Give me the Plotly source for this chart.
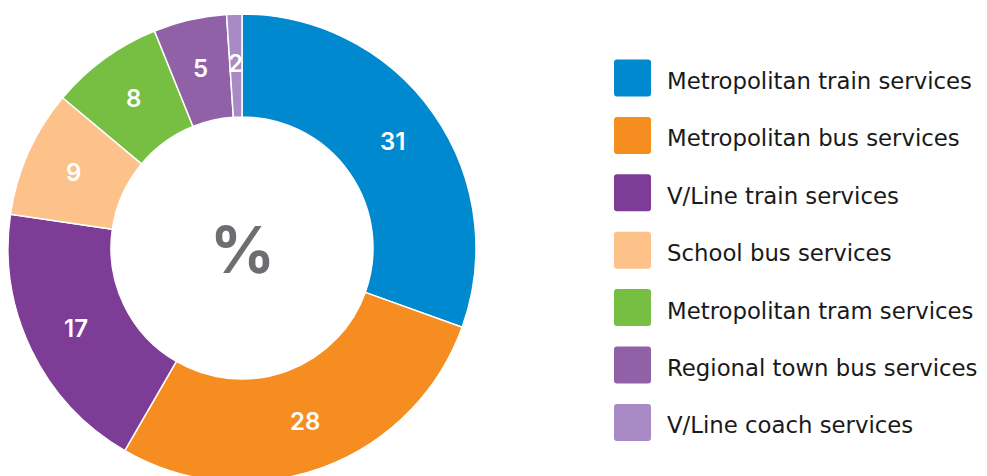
import math
import plotly.graph_objects as go

# ---- data ----
categories = [
    "Metropolitan train services",
    "Metropolitan bus services",
    "V/Line train services",
    "School bus services",
    "Metropolitan tram services",
    "Regional town bus services",
    "V/Line coach services",
]
# slice shares as drawn in the picture
shares = [30.5, 27.85, 18.95, 8.8, 7.8, 5.05, 1.05]
# printed labels
printed = ["31", "28", "17", "9", "8", "5", "2"]
colors = ["#0089CF", "#F68D20", "#7D3C96", "#FDC18A", "#76BF43", "#9161A8", "#A88AC4"]

W, H = 987, 476
OFF = 8  # page offset of the figure inside the browser window
NUM_FONT = "Inter"
LEG_FONT = "DejaVu Sans"

# pie geometry (page pixels)
cx, cy, R_out, R_in = 242, 248, 234, 131


def X(p):
    return (p - OFF) / W


def Y(p):
    return 1 - (p - OFF) / H


fig = go.Figure(go.Pie(
    labels=categories,
    values=shares,
    sort=False,
    direction="clockwise",
    rotation=0,
    hole=R_in / R_out,
    marker=dict(colors=colors, line=dict(color="white", width=1.5)),
    textinfo="none",
    hoverinfo="label+value",
    showlegend=False,
    domain=dict(x=[X(cx - R_out), X(cx + R_out)],
                y=[Y(cy + R_out), Y(cy - R_out)]),
))

annotations = []
total = sum(shares)
cum = 0.0
R_lab = (R_out + R_in) / 2 + 2
for v, t in zip(shares, printed):
    mid = (cum + v / 2) / total
    cum += v
    th = 2 * math.pi * mid
    px = cx + R_lab * math.sin(th)
    py = cy - R_lab * math.cos(th)
    annotations.append(dict(
        x=X(px), y=Y(py), xref="paper", yref="paper",
        text=t, showarrow=False, xanchor="center", yanchor="middle",
        font=dict(family=NUM_FONT, size=24, color="white", weight=600),
    ))

annotations.append(dict(
    x=X(cx), y=Y(249), xref="paper", yref="paper", text="%",
    showarrow=False, xanchor="center", yanchor="middle",
    font=dict(family=NUM_FONT, size=64, color="#6D6E71", weight=700),
))

# custom legend
shapes = []
sw = 37
rad = 3
x0 = 614
y_first, y_step = 78, 57.4
for i, (c, name) in enumerate(zip(colors, categories)):
    yc = y_first + i * y_step
    l, r = x0, x0 + sw
    t, b = yc - sw / 2, yc + sw / 2
    path = (f"M {X(l+rad)},{Y(t)} L {X(r-rad)},{Y(t)} Q {X(r)},{Y(t)} {X(r)},{Y(t+rad)} "
            f"L {X(r)},{Y(b-rad)} Q {X(r)},{Y(b)} {X(r-rad)},{Y(b)} "
            f"L {X(l+rad)},{Y(b)} Q {X(l)},{Y(b)} {X(l)},{Y(b-rad)} "
            f"L {X(l)},{Y(t+rad)} Q {X(l)},{Y(t)} {X(l+rad)},{Y(t)} Z")
    shapes.append(dict(type="path", xref="paper", yref="paper", path=path,
                       fillcolor=c, line=dict(width=0)))
    annotations.append(dict(
        x=X(665), y=Y(yc + 3), xref="paper", yref="paper", text=name,
        showarrow=False, xanchor="left", yanchor="middle",
        font=dict(family=LEG_FONT, size=22.8, color="#1A1A1A"),
    ))

fig.update_layout(
    width=W, height=H,
    margin=dict(l=0, r=0, t=0, b=0),
    paper_bgcolor="white", plot_bgcolor="white",
    annotations=annotations, shapes=shapes,
)

fig.write_html("out.html")
